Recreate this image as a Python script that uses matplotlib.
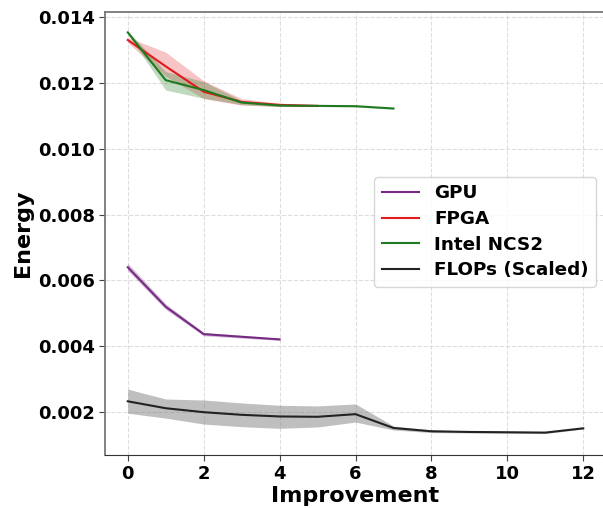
import matplotlib
matplotlib.use("Agg")
import matplotlib.pyplot as plt

# ---- data ----
x_gpu = [0, 1, 2, 3, 4]
gpu = [0.00640, 0.00520, 0.00437, 0.00429, 0.00421]
gpu_lo = [0.00630, 0.00512, 0.00432, 0.00425, 0.00418]
gpu_hi = [0.00652, 0.00529, 0.00442, 0.00433, 0.00424]

x_fpga = [0, 1, 2, 3, 4, 5]
fpga = [0.01330, 0.01250, 0.01173, 0.01142, 0.01133, 0.01130]
fpga_lo = [0.01322, 0.01220, 0.01152, 0.01132, 0.01128, 0.01128]
fpga_hi = [0.01338, 0.01293, 0.01206, 0.01152, 0.01138, 0.01132]

x_ncs = [0, 1, 2, 3, 4, 5, 6, 7]
ncs = [0.01353, 0.01208, 0.01178, 0.01140, 0.01131, 0.01130, 0.01129, 0.01122]
ncs_lo = [0.01348, 0.01178, 0.01153, 0.01134, 0.01128, 0.01128, 0.01127, 0.01120]
ncs_hi = [0.01358, 0.01234, 0.01204, 0.01146, 0.01134, 0.01132, 0.01131, 0.01124]

x_flops = [0, 1, 2, 3, 4, 5, 6, 7, 8, 9, 10, 11, 12]
flops = [0.00233, 0.00212, 0.00200, 0.00192, 0.00187, 0.00186, 0.00194,
         0.00152, 0.00142, 0.00140, 0.00139, 0.00138, 0.00151]
flops_lo = [0.00197, 0.00182, 0.00164, 0.00156, 0.00151, 0.00155, 0.00170,
            0.00146, 0.00138, 0.00137, 0.00136, 0.00135, 0.00149]
flops_hi = [0.00270, 0.00240, 0.00237, 0.00228, 0.00221, 0.00219, 0.00225,
            0.00158, 0.00146, 0.00143, 0.00142, 0.00141, 0.00153]

labels = ["GPU", "FPGA", "Intel NCS2", "FLOPs (Scaled)"]
colors = ["#762a83", "#e31a1c", "#1f7a1f", "#222222"]
x_ticks = [0, 2, 4, 6, 8, 10, 12]
y_ticks = [0.002, 0.004, 0.006, 0.008, 0.010, 0.012, 0.014]

plt.rcParams['font.family'] = ['DejaVu Sans']
plt.rcParams['font.weight'] = 'bold'

fig = plt.figure(figsize=(6.03, 5.08), dpi=100)
ax = fig.add_axes([105/603, 1-455/508, (606-105)/603, (455-12)/508])

series = [(x_gpu, gpu, gpu_lo, gpu_hi), (x_fpga, fpga, fpga_lo, fpga_hi),
          (x_ncs, ncs, ncs_lo, ncs_hi), (x_flops, flops, flops_lo, flops_hi)]
fill_alpha = [0.3, 0.25, 0.28, 0.5]
for (xs, ys, lo, hi), lab, c, a in zip(series, labels, colors, fill_alpha):
    fc = "#808080" if lab.startswith("FLOPs") else c
    ax.fill_between(xs, lo, hi, color=fc, alpha=a, linewidth=0)
    ax.plot(xs, ys, color=c, lw=1.5, label=lab)

ax.set_xlim(-0.6, 12.6)
ax.set_ylim(0.0007, 0.01415)
ax.set_xticks(x_ticks)
ax.set_yticks(y_ticks)
ax.set_yticklabels([f"{v:.3f}" for v in y_ticks])
ax.tick_params(labelsize=13, colors="#444444", labelcolor="black", length=4, pad=3)
for lab in ax.get_xticklabels() + ax.get_yticklabels():
    lab.set_fontweight("bold")
ax.grid(True, linestyle="--", color="#dddddd", linewidth=0.8)
ax.set_axisbelow(True)
for s in ["top", "left", "right"]:
    ax.spines[s].set_color("#777777")
    ax.spines[s].set_linewidth(1.3)
ax.spines["bottom"].set_color("#333333")
ax.set_xlabel("Improvement", fontsize=16, fontweight="bold", labelpad=2)
ax.set_ylabel("Energy", fontsize=16, fontweight="bold", labelpad=4)

leg = ax.legend(loc="upper right", bbox_to_anchor=(596/603, 1-177/508),
                bbox_transform=fig.transFigure, borderaxespad=0,
                prop={"size": 13.2, "weight": "bold"}, handlelength=2.05,
                handletextpad=0.8, labelspacing=0.42)

fig.savefig("out.png", dpi=100)
